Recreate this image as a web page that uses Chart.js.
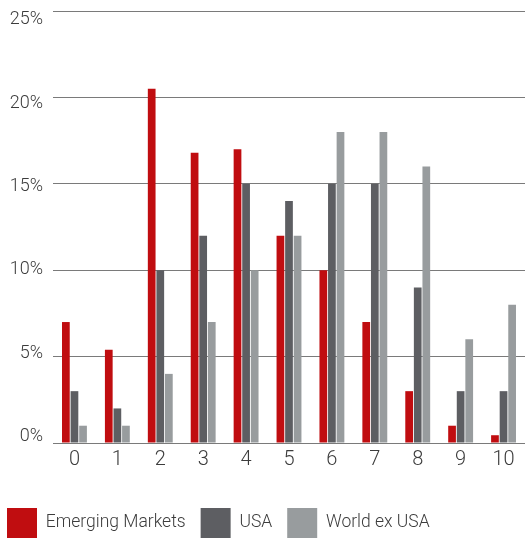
<!DOCTYPE html>
<html lang="en">
<head>
    <meta charset="UTF-8">
    <title>Distribution by Score</title>
    <script src="https://cdn.jsdelivr.net/npm/chart.js"></script>
    <style>
        html, body { margin: 0; padding: 0; background: #fff; }
        #wrap { width: 525px; height: 539px; }
    </style>
</head>
<body>
    <div id="wrap"><canvas id="scoreChart"></canvas></div>

    <script>
        // data
        const categories = ['0', '1', '2', '3', '4', '5', '6', '7', '8', '9', '10'];
        const emergingMarkets = [7, 5.4, 20.5, 16.8, 17, 12, 10, 7, 3, 1, 0.45];
        const usa = [3, 2, 10, 12, 15, 14, 15, 15, 9, 3, 3];
        const worldExUsa = [1, 1, 4, 7, 10, 12, 18, 18, 16, 6, 8];
        const yTicks = [0, 5, 10, 15, 20, 25];

        const textColor = '#3c3c3c';
        const fontFamily = 'Roboto, "Liberation Sans", sans-serif';

        const ctx = document.getElementById('scoreChart').getContext('2d');
        new Chart(ctx, {
            type: 'bar',
            data: {
                labels: categories,
                datasets: [
                    { label: 'Emerging Markets', data: emergingMarkets, backgroundColor: '#c00d10' },
                    { label: 'USA', data: usa, backgroundColor: '#5d5e62' },
                    { label: 'World ex USA', data: worldExUsa, backgroundColor: '#989c9e' }
                ]
            },
            options: {
                responsive: true,
                maintainAspectRatio: false,
                animation: false,
                layout: { padding: { top: 11, right: 0, bottom: -9, left: -8 } },
                datasets: {
                    bar: { categoryPercentage: 0.6, barPercentage: 0.9, borderWidth: 0 }
                },
                scales: {
                    x: {
                        grid: { display: false, drawTicks: false },
                        border: { display: false },
                        ticks: {
                            color: textColor,
                            padding: 5,
                            font: { family: fontFamily, size: 20, weight: 300 }
                        },
                        afterFit: function(scale) { scale.height = 50; }
                    },
                    y: {
                        min: 0,
                        max: 25,
                        position: 'left',
                        border: { display: false },
                        grid: { color: '#7a7a7a', lineWidth: 1, drawTicks: false },
                        ticks: { display: false, stepSize: 5 },
                        afterFit: function(scale) {
                            scale.width = 0;
                            scale.paddingTop = 0;
                            scale.paddingBottom = 0;
                        }
                    },
                    // labels sit on their own, slightly tighter scale in the original
                    yLabels: {
                        type: 'linear',
                        position: 'left',
                        min: -0.39,
                        max: 25.54,
                        grid: { display: false, drawTicks: false },
                        border: { display: false },
                        afterBuildTicks: function(scale) {
                            scale.ticks = yTicks.map(v => ({ value: v }));
                        },
                        ticks: {
                            color: textColor,
                            padding: 10,
                            font: { family: fontFamily, size: 18, weight: 300 },
                            callback: v => v + '%'
                        },
                        afterFit: function(scale) {
                            scale.width = 61;
                            scale.paddingTop = 0;
                            scale.paddingBottom = 0;
                        }
                    }
                },
                plugins: {
                    legend: {
                        position: 'bottom',
                        align: 'start',
                        labels: {
                            color: textColor,
                            boxWidth: 30,
                            boxHeight: 30,
                            padding: 15,
                            font: { family: fontFamily, size: 17.5, weight: 300 }
                        }
                    },
                    tooltip: { enabled: false }
                }
            }
        });
    </script>
</body>
</html>
